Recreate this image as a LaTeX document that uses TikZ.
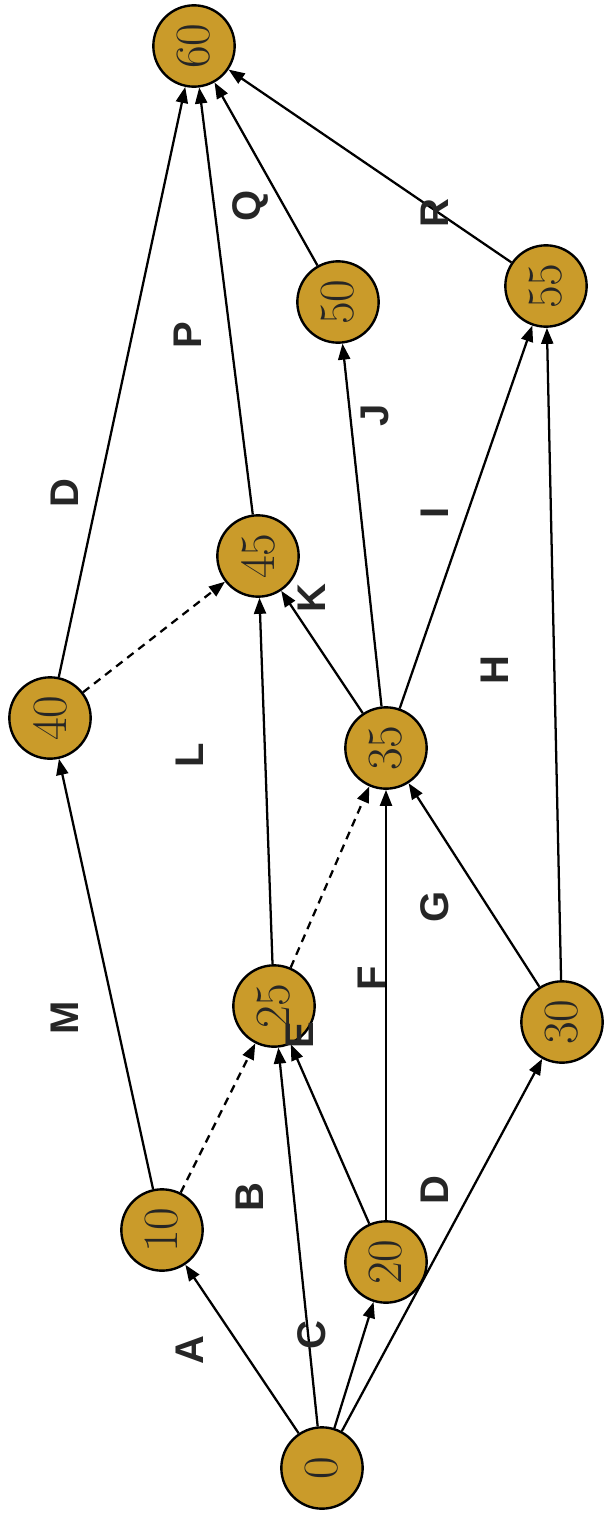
\documentclass[tikz,border=0pt]{standalone}
\usepackage{fontspec}
\usetikzlibrary{arrows.meta}
\newfontfamily\actfont{Liberation Sans}

\definecolor{eventfill}{RGB}{202,155,42}

\tikzset{every picture/.style={line width=0.75pt}}
\tikzset{
  event/.style={circle, draw, line width=1.8pt, fill=eventfill, minimum size=61pt, inner sep=0pt, rotate=90, font=\fontsize{37}{40}\selectfont, text=black!85},
  act/.style={line width=1.7pt, -{Triangle[length=12pt,width=9pt]}},
  dummy/.style={act, dash pattern=on 6pt off 4.5pt},
  actlabel/.style={rotate=90, inner sep=0pt, font=\actfont\bfseries\fontsize{30}{32}\selectfont, text=black!85}
}

\begin{document}
\begin{tikzpicture}[x=0.75pt,y=0.75pt,yscale=-1,xscale=1]
\useasboundingbox (0,0) rectangle (604,1524);

% Events
\node [event] (e0)  at (322,1468) {0};
\node [event] (e10) at (162,1230) {10};
\node [event] (e20) at (386,1262) {20};
\node [event] (e25) at (274,1006) {25};
\node [event] (e30) at (562,1022) {30};
\node [event] (e35) at (386,748)  {35};
\node [event] (e40) at (50,718)   {40};
\node [event] (e45) at (258,556)  {45};
\node [event] (e50) at (338,302)  {50};
\node [event] (e55) at (546,286)  {55};
\node [event] (e60) at (194,46)   {60};

% Activities
\draw [act] (e0) -- (e10);
\draw [act] (e0) -- (e25);
\draw [act] (e0) -- (e20);
\draw [act] (e0) -- (e30);
\draw [act] (e20) -- (e25);
\draw [act] (e20) -- (e35);
\draw [act] (e10) -- (e40);
\draw [act] (e25) -- (e45);
\draw [act] (e30) -- (e35);
\draw [act] (e30) -- (e55);
\draw [act] (e35) -- (e45);
\draw [act] (e35) -- (e50);
\draw [act] (e35) -- (e55);
\draw [act] (e40) -- (e60);
\draw [act] (e45) -- (e60);
\draw [act] (e50) -- (e60);
\draw [act] (e55) -- (e60);

% Dummy activities
\draw [dummy] (e10) -- (e25);
\draw [dummy] (e25) -- (e35);
\draw [dummy] (e40) -- (e45);

% Activity labels
\node [actlabel] (lA)  at (190,1350) {A};
\node [actlabel] (lC)  at (312,1335) {C};
\node [actlabel] (lB)  at (250,1197) {B};
\node [actlabel] (lD1) at (435,1190) {D};
\node [actlabel] (lE)  at (300,1035) {E};
\node [actlabel] (lF)  at (372,978)  {F};
\node [actlabel] (lG)  at (435,907)  {G};
\node [actlabel] (lM)  at (65,1018)  {M};
\node [actlabel] (lL)  at (190,755)  {L};
\node [actlabel] (lH)  at (495,670)  {H};
\node [actlabel] (lK)  at (312,598)  {K};
\node [actlabel] (lI)  at (435,513)  {I};
\node [actlabel] (lJ)  at (375,415)  {J};
\node [actlabel] (lD2) at (65,493)   {D};
\node [actlabel] (lP)  at (188,335)  {P};
\node [actlabel] (lQ)  at (250,206)  {Q};
\node [actlabel] (lR)  at (435,213)  {R};

\end{tikzpicture}
\end{document}
